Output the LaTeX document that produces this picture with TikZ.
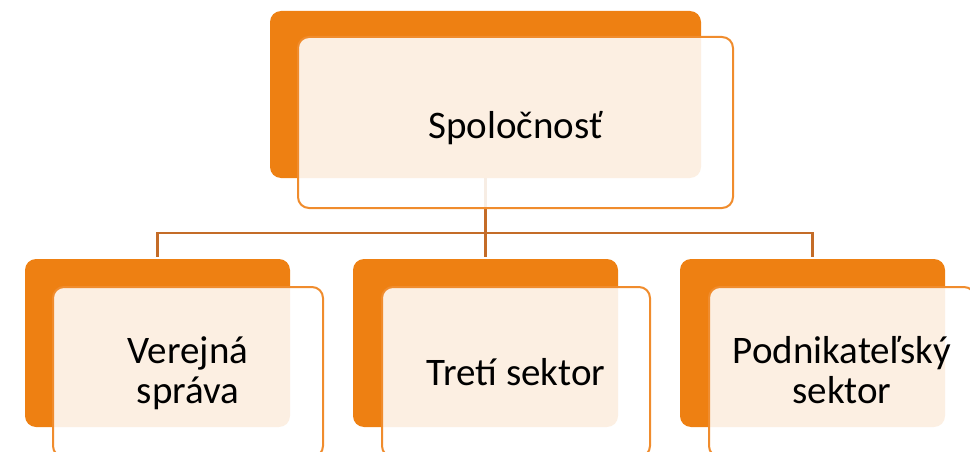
\documentclass[tikz,border=0pt]{standalone}
\usepackage{fontspec}
\setmainfont{Carlito}
\definecolor{backor}{RGB}{238,128,18}
\definecolor{lineor}{RGB}{240,140,45}
\definecolor{conn}{RGB}{196,108,40}
\tikzset{
  backbox/.style={draw=none, fill=backor, rounded corners=11pt, inner sep=0pt},
  frontbox/.style={draw=lineor, line width=2pt, fill=white, fill opacity=0.88, rounded corners=11pt, inner sep=0pt},
  lbl/.style={font=\fontsize{39pt}{36pt}\selectfont, text=black, align=center, inner sep=0pt},
  connector/.style={draw=conn, line width=2.5pt}
}
\begin{document}
\begin{tikzpicture}[x=1pt,y=-1pt]
\useasboundingbox (0,0) rectangle (970,452);
\clip (0,0) rectangle (970,452);
% back boxes
\node[backbox, minimum width=431pt, minimum height=167pt] (tb) at (485.5,94.5) {};
\node[backbox, minimum width=265pt, minimum height=168pt] (lb) at (157.5,343) {};
\node[backbox, minimum width=265pt, minimum height=168pt] (mb) at (485.5,343) {};
\node[backbox, minimum width=265pt, minimum height=168pt] (rb) at (812.5,343) {};
% connectors
\coordinate (j) at (485.5,233);
\draw[connector] (tb.south) -- (j);
\draw[connector, shorten >=2pt] (j) -| (lb.north);
\draw[connector, shorten >=2pt] (j) -- (mb.north);
\draw[connector, shorten >=2pt] (j) -| (rb.north);
% front boxes
\node[frontbox, minimum width=435pt, minimum height=171pt] (tf) at (515.5,122.5) {};
\node[frontbox, minimum width=270pt, minimum height=170pt] (lf) at (188,372) {};
\node[frontbox, minimum width=268pt, minimum height=170pt] (mf) at (516,372) {};
\node[frontbox, minimum width=266pt, minimum height=170pt] (rf) at (842,372) {};
% labels
\node[lbl, anchor=base] (tt) at ([yshift=-15.5pt]tf.center) {Spoločnosť};
\node[lbl, anchor=base] (lt) at ([yshift=-31pt]lf.center) {Verejná\\[4pt]správa};
\node[lbl, anchor=base] (mt) at ([yshift=-13pt]mf.center) {Tretí sektor};
\node[lbl, anchor=base] (rt) at ([yshift=-31pt]rf.center) {Podnikateľský\\[4pt]sektor};
\end{tikzpicture}
\end{document}
